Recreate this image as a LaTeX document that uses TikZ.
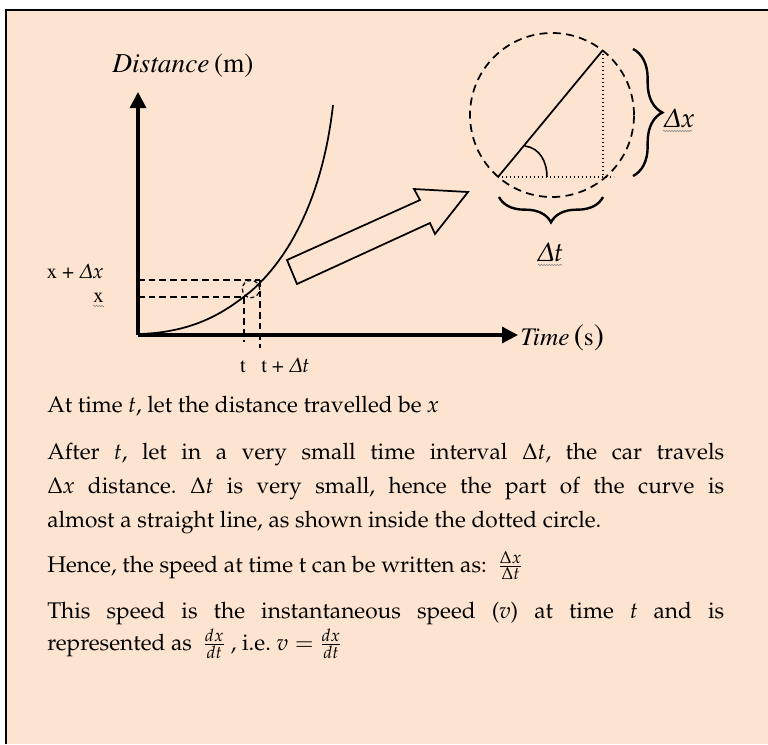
\documentclass[tikz,border=0pt]{standalone}
\usepackage[T1]{fontenc}
\usepackage{mathpazo}
\usetikzlibrary{arrows.meta,decorations.pathreplacing,decorations.pathmorphing}
\definecolor{peach}{RGB}{253,228,208}
\newcommand{\tms}{\fontfamily{ptm}\selectfont}
\newcommand{\iDelta}{\mathnormal{\Delta}}
\frenchspacing
\tikzset{
  bodytxt/.style={anchor=base west, inner sep=0pt, font=\fontsize{17}{20}\selectfont},
  axis/.style={line width=2.4pt, -{Triangle[width=12pt,length=12pt]}},
  dsh/.style={line width=1.1pt, dash pattern=on 5pt off 3pt},
  squig/.style={gray, line width=0.4pt, decorate, decoration={snake, amplitude=0.5pt, segment length=2pt}},
  bracestyle/.style={line width=1.8pt, decorate},
  lbl/.style={inner sep=0pt}
}
\begin{document}
\begin{tikzpicture}[x=0.75pt,y=-0.75pt]
\useasboundingbox (0,0) rectangle (768,744);
\fill[white] (0,0) rectangle (768,744);
\fill[peach] (6,10) rectangle (768,744);
\draw[line width=1.2pt] (6,744) -- (6,10) -- (768,10);

% axes
\coordinate (O) at (138,335);
\coordinate (ytip) at (138,92);
\coordinate (xtip) at (518,335);
\draw[axis] (O) -- (ytip);
\draw[axis] (O) -- (xtip);
\node[lbl, anchor=south] (ylab) at (183,78) {\tms\fontsize{20.5}{22}\selectfont\textit{Distance}\,(m)};
\node[lbl, anchor=west] (xlab) at (520,338) {\tms\fontsize{19}{22}\selectfont\textit{Time}\,{\fontsize{23}{24}\selectfont(}s{\fontsize{23}{24}\selectfont)}};

% curve
\coordinate (c0) at (140,334);
\coordinate (cA) at (250,292);
\coordinate (c1) at (333,105);
\draw[line width=1.3pt] (c0) .. controls (195,332) and (225,312) .. (cA) .. controls (290,258) and (323,195) .. (c1);

% dashed guides
\coordinate (yx) at (138,297);
\coordinate (ydx) at (138,280);
\coordinate (px) at (244,297);
\coordinate (pdx) at (260,280);
\coordinate (tb) at (244,342);
\coordinate (tdb) at (260,348);
\draw[dsh] (ydx) -- (pdx);
\draw[dsh] (yx) -- (px);
\draw[dsh] (px) -- (tb);
\draw[dsh] (pdx) -- (tdb);
\draw[line width=0.9pt, dash pattern=on 3pt off 2pt] (251,289) circle[radius=6.5pt];

% labels
\node[lbl, anchor=base east] (lxdx) at (104,278) {\tms\fontsize{15.5}{17}\selectfont x + $\iDelta x$};
\node[lbl, anchor=base east] (lx) at (104,302) {\tms\fontsize{15.5}{17}\selectfont x};
\draw[squig] (93,306) -- (104,306);
\node[lbl, anchor=base] (lt) at (243,372) {\tms\fontsize{15.5}{17}\selectfont t};
\node[lbl, anchor=base west] (ltdt) at (261,372) {\tms\fontsize{15.5}{17}\selectfont t + $\iDelta t$};

% big arrow
\draw[line width=1.3pt, line join=miter] (287,260) -- (297,284) -- (430,223) -- (435,234) -- (468,192) -- (414,189) -- (420,200) -- cycle;

% magnified view
\coordinate (cc) at (552,115);
\draw[line width=1.3pt, dash pattern=on 6pt off 4pt] (cc) circle[radius=61.5pt];
\coordinate (A) at (498,177);
\coordinate (B) at (603,50);
\coordinate (C) at (603,177);
\coordinate (D) at (614,177);
\draw[line width=1.3pt] (A) -- (B);
\draw[line width=1pt, dotted] (A) -- (D);
\draw[line width=1pt, dotted] (B) -- (C);
\draw[line width=1.2pt] (525,146) .. controls (540,148) and (547,162) .. (547,177);

% braces
\coordinate (br1) at (633,49);
\coordinate (br2) at (633,176);
\draw[bracestyle, decoration={brace, amplitude=22pt}] (br1) -- (br2);
\node[lbl, anchor=west] (ldx) at (663,118) {\fontsize{20}{22}\selectfont$\iDelta x$};
\draw[squig] (663,131) -- (692,131);
\coordinate (bb1) at (499,197);
\coordinate (bb2) at (603,197);
\draw[bracestyle, decoration={brace, amplitude=19pt, mirror}] (bb1) -- (bb2);
\node[lbl, anchor=center] (ldt) at (550,252) {\fontsize{20}{22}\selectfont$\iDelta t$};
\draw[squig] (538,265) -- (562,265);

% text
\node[bodytxt] (p1) at (47,412) {At time \textit{t}, let the distance travelled be \textit{x}};
\node[bodytxt] (p2) at (47,459) {\makebox[507.75pt][s]{After \textit{t}, let in a very small time interval $\Delta$\textit{t}, the car travels}};
\node[bodytxt] (p3) at (47,493) {\makebox[507.75pt][s]{$\Delta$\textit{x} distance. $\Delta$\textit{t} is very small, hence the part of the curve is}};
\node[bodytxt] (p4) at (47,527) {almost a straight line, as shown inside the dotted circle.};
\node[bodytxt] (p5) at (47,572) {Hence, the speed at time t can be written as: \ $\frac{\Delta x}{\Delta t}$};
\node[bodytxt] (p6) at (47,618) {\makebox[507.75pt][s]{This speed is the instantaneous speed (\textit{v}) at time \textit{t} and is}};
\node[bodytxt] (p7) at (47,650) {represented as \ $\frac{dx}{dt}$ , i.e. $v = \frac{dx}{dt}$};
\end{tikzpicture}
\end{document}
